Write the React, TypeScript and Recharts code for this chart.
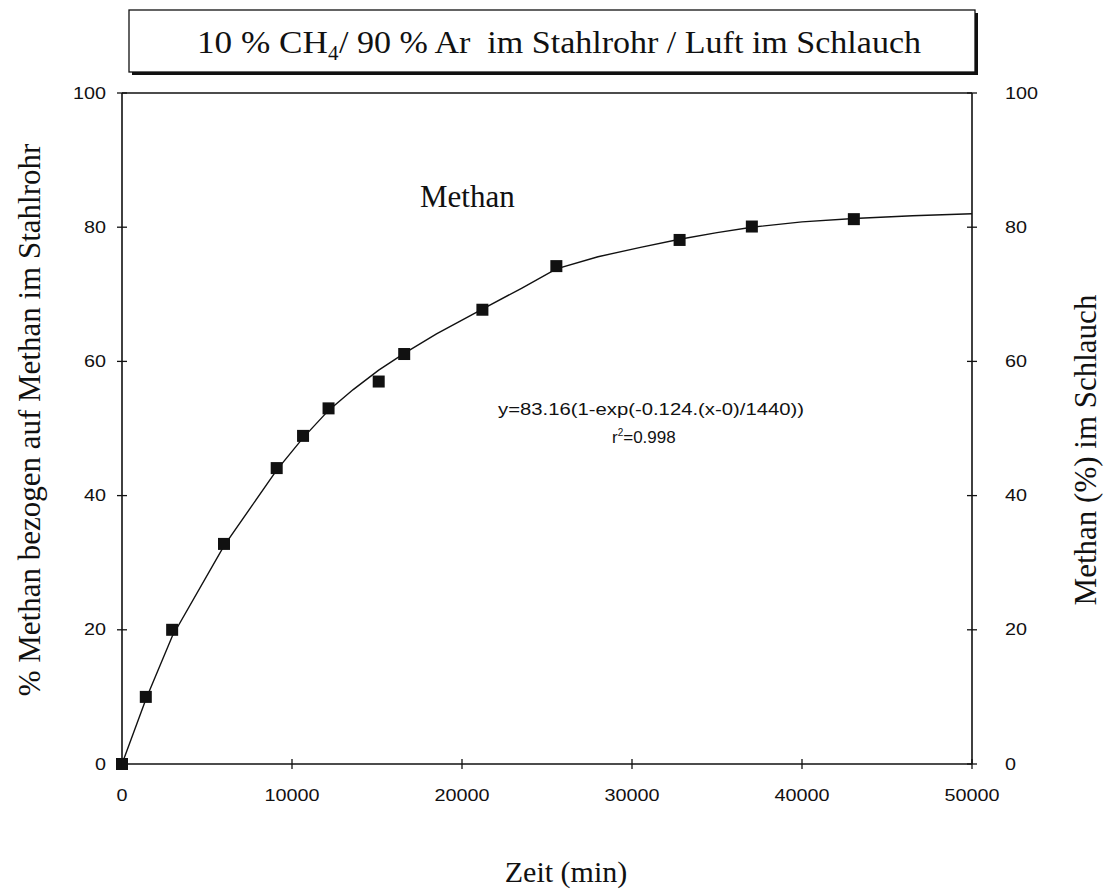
import { ComposedChart, Line, Scatter, XAxis, YAxis, ReferenceLine } from 'recharts';

// measured points (Zeit in min, % Methan)
const measX = [0, 1400, 2950, 6000, 9100, 10650, 12150, 15100, 16600, 21200, 25550, 32800, 37050, 43050];
const measY = [0, 10, 20, 32.8, 44.1, 48.9, 53, 57, 61.1, 67.7, 74.2, 78.1, 80.1, 81.2];

// fitted curve
const fitX = [0, 1400, 2950, 6000, 9100, 10650, 12150, 13600, 15100, 16600, 18500, 21200, 23500, 25550, 28000, 30500, 32800, 35000, 37050, 40000, 43050, 46500, 50000];
const fitY = [0, 9.6, 19, 32.5, 43.8, 48.6, 52.7, 55.8, 58.7, 61.2, 64.1, 67.8, 70.9, 73.8, 75.6, 77, 78.2, 79.2, 80, 80.8, 81.3, 81.7, 82];

const xTicks = [0, 10000, 20000, 30000, 40000, 50000];
const yTicks = [0, 20, 40, 60, 80, 100];

const measData = measX.map((x, i) => ({ x, y: measY[i] }));
const fitData = fitX.map((x, i) => ({ x, y: fitY[i] }));

const SERIF = '"Liberation Serif", "Times New Roman", serif';
const SANS = '"Liberation Sans", Arial, sans-serif';
const INK = '#111';

const tickText = (s: string) => ({
  fontFamily: SANS,
  fontSize: 16,
  fill: INK,
  textLength: s.length * 11,
  lengthAdjust: 'spacingAndGlyphs' as const,
});

const LeftTick = (props: any) => {
  const { x, y, payload } = props;
  const s = String(payload.value);
  return (
    <g>
      <line x1={x - 5} x2={x + 5} y1={y} y2={y} stroke={INK} strokeWidth={1.3} />
      <text x={x - 16} y={y} textAnchor="end" dominantBaseline="central" {...tickText(s)}>{s}</text>
    </g>
  );
};

const RightTick = (props: any) => {
  const { x, y, payload } = props;
  const s = String(payload.value);
  return (
    <g>
      <line x1={x - 5} x2={x + 5} y1={y} y2={y} stroke={INK} strokeWidth={1.3} />
      <text x={x + 33} y={y} textAnchor="start" dominantBaseline="central" {...tickText(s)}>{s}</text>
    </g>
  );
};

const BottomTick = (props: any) => {
  const { x, y, payload } = props;
  const s = String(payload.value);
  return (
    <g>
      <line x1={x} x2={x} y1={y - 5} y2={y + 5} stroke={INK} strokeWidth={1.3} />
      <text x={x} y={y + 31} textAnchor="middle" dominantBaseline="central" {...tickText(s)}>{s}</text>
    </g>
  );
};

const Square = (props: any) => {
  const { cx, cy } = props;
  return <rect x={cx - 6} y={cy - 6} width={12} height={12} fill={INK} />;
};

export default function App() {
  return (
    <div style={{ position: 'absolute', left: 0, top: 0, width: 1109, height: 891, background: '#fff' }}>
      <ComposedChart width={1109} height={891} margin={{ top: 93, right: 0, bottom: 87, left: 0 }}>
        <XAxis
          dataKey="x"
          type="number"
          domain={[0, 50000]}
          ticks={xTicks}
          height={40}
          tickSize={0}
          tickMargin={0}
          tickLine={false}
          axisLine={{ stroke: INK, strokeWidth: 1.6 }}
          tick={<BottomTick />}
          interval={0}
        />
        <YAxis
          yAxisId="left"
          dataKey="y"
          type="number"
          domain={[0, 100]}
          ticks={yTicks}
          width={122}
          tickSize={0}
          tickMargin={0}
          tickLine={false}
          axisLine={{ stroke: INK, strokeWidth: 1.6 }}
          tick={<LeftTick />}
          interval={0}
        />
        <YAxis
          yAxisId="right"
          orientation="right"
          dataKey="y"
          type="number"
          domain={[0, 100]}
          ticks={yTicks}
          width={137}
          tickSize={0}
          tickMargin={0}
          tickLine={false}
          axisLine={{ stroke: INK, strokeWidth: 1.6 }}
          tick={<RightTick />}
          interval={0}
        />
        <ReferenceLine yAxisId="left" y={100} stroke={INK} strokeWidth={1.6} />
        {/* invisible copy so the right axis gets its scale and ticks */}
        <Line
          yAxisId="right"
          data={fitData}
          dataKey="y"
          type="linear"
          stroke="none"
          dot={false}
          activeDot={false}
          legendType="none"
          isAnimationActive={false}
        />
        <Line
          yAxisId="left"
          data={fitData}
          dataKey="y"
          type="linear"
          stroke={INK}
          strokeWidth={1.4}
          dot={false}
          activeDot={false}
          isAnimationActive={false}
        />
        <Scatter
          yAxisId="left"
          data={measData}
          dataKey="y"
          shape={<Square />}
          isAnimationActive={false}
        />
      </ComposedChart>

      <svg
        width={1109}
        height={891}
        style={{ position: 'absolute', left: 0, top: 0, pointerEvents: 'none' }}
      >
        {/* title box with shadow */}
        <rect x={132} y={13} width={846} height={62} fill={INK} />
        <rect x={129} y={10} width={846} height={62} fill="#fff" stroke={INK} strokeWidth={1.3} />
        <text x={197} y={53} fontFamily={SERIF} fontSize={32} fill={INK} textLength={131} lengthAdjust="spacingAndGlyphs">
          10 % CH
        </text>
        <text x={328} y={60} fontFamily={SERIF} fontSize={21} fill={INK}>4</text>
        <text
          x={339}
          y={53}
          fontFamily={SERIF}
          fontSize={32}
          fill={INK}
          textLength={582}
          lengthAdjust="spacingAndGlyphs"
          style={{ whiteSpace: 'pre' }}
        >
          {'/ 90 % Ar  im Stahlrohr / Luft im Schlauch'}
        </text>

        <text x={420} y={207} fontFamily={SERIF} fontSize={31} fill={INK}>Methan</text>

        <text x={498} y={415} fontFamily={SANS} fontSize={17} fill={INK} textLength={306} lengthAdjust="spacingAndGlyphs">
          y=83.16(1-exp(-0.124.(x-0)/1440))
        </text>
        <text x={612} y={443} fontFamily={SANS} fontSize={17} fill={INK}>
          r<tspan fontSize={10} dy={-7}>2</tspan><tspan dy={7}>=0.998</tspan>
        </text>

        <text
          x={0}
          y={0}
          transform="translate(40 420) rotate(-90)"
          textAnchor="middle"
          fontFamily={SERIF}
          fontSize={31}
          fill={INK}
        >
          % Methan bezogen auf Methan im Stahlrohr
        </text>
        <text
          x={0}
          y={0}
          transform="translate(1096 450) rotate(-90)"
          textAnchor="middle"
          fontFamily={SERIF}
          fontSize={31}
          fill={INK}
        >
          Methan (%) im Schlauch
        </text>
        <text x={566} y={882} textAnchor="middle" fontFamily={SERIF} fontSize={30} fill={INK}>
          Zeit (min)
        </text>
      </svg>
    </div>
  );
}
